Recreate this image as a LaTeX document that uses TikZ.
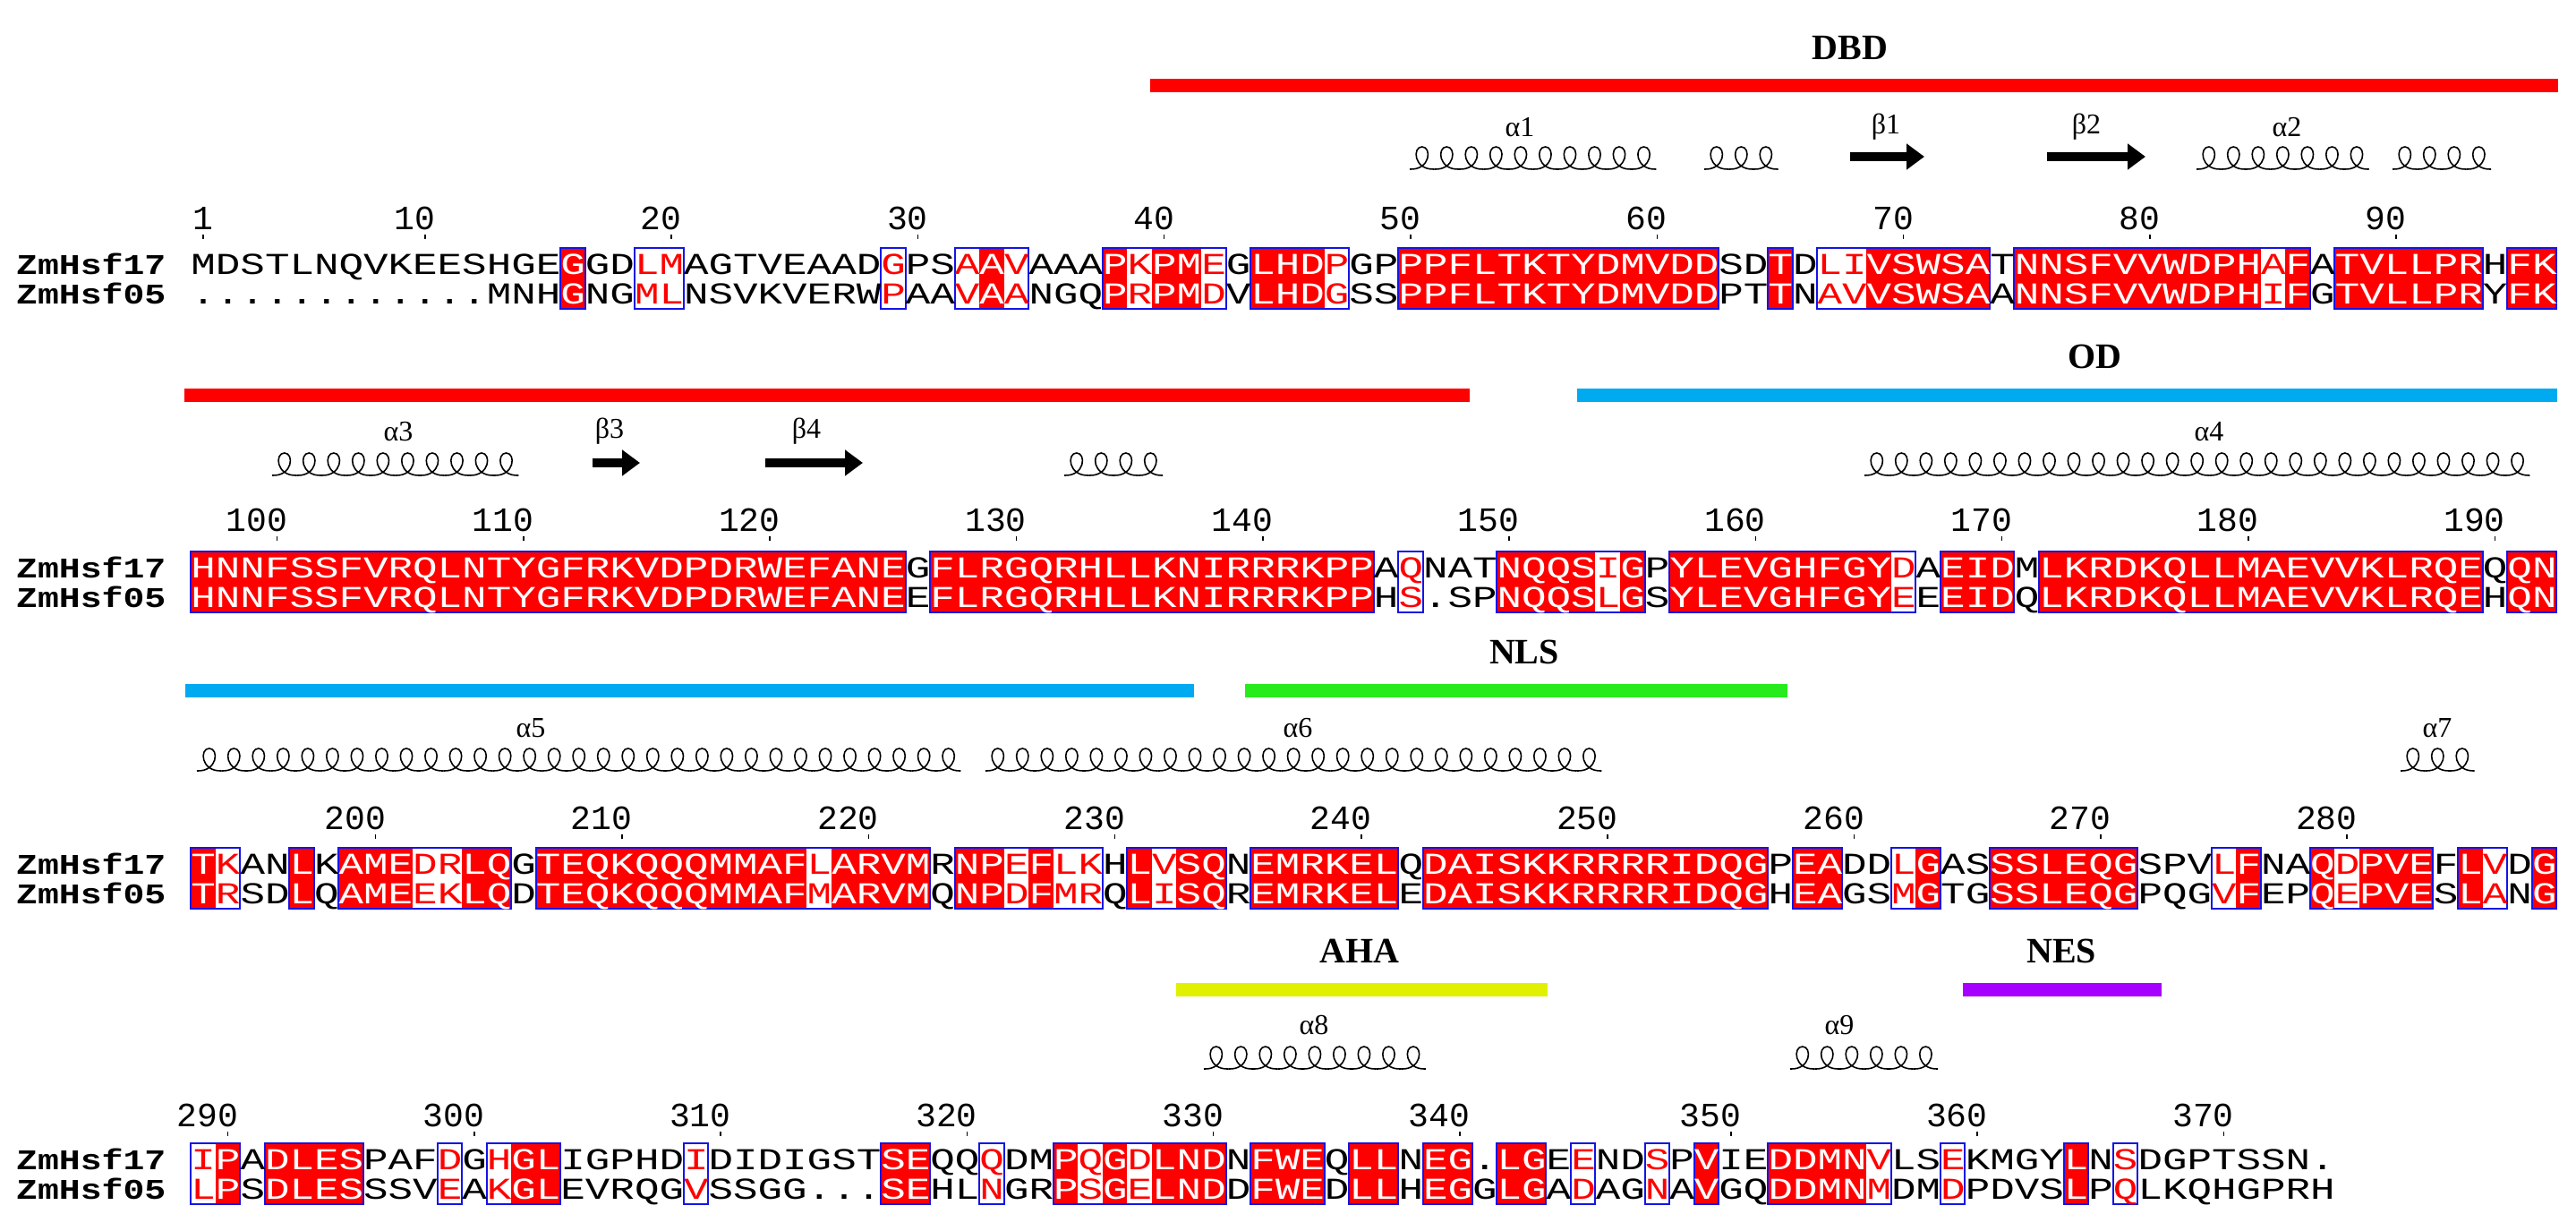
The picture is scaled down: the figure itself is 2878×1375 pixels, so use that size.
\documentclass[tikz,border=0pt]{standalone}
\usepackage{fontspec}
\setmainfont{Liberation Serif}
\newfontfamily\monof{Liberation Mono}
\usetikzlibrary{arrows.meta}
\definecolor{idred}{RGB}{255,0,0}
\definecolor{frblue}{RGB}{20,20,230}
\definecolor{odblue}{RGB}{0,170,240}
\definecolor{nlsgreen}{RGB}{40,235,30}
\definecolor{ahayel}{RGB}{225,240,0}
\definecolor{nespur}{RGB}{165,0,255}
\newcommand\W[1]{\textcolor{white}{#1}}
\newcommand\R[1]{\textcolor{idred}{#1}}
\newcommand\idn[2]{\fill[idred] ({227+(#1-1.5)*27.53},\bt) rectangle ({227+(#2-0.5)*27.53},\bb);}
\newcommand\grp[2]{\draw[frblue,line width=2pt] ({227+(#1-1.5)*27.53},\bt) rectangle ({227+(#2-0.5)*27.53},\bb);}
\newcommand\seqrow[2]{\node[seq] at ({227-0.5*27.53},{#1+11}) {\scalebox{1}[0.74]{#2}};}
\newcommand\names[2]{\node[nm] at (18,{#1+11}) {\scalebox{1}[0.8]{ZmHsf17}}; \node[nm] at (18,{#2+11}) {\scalebox{1}[0.8]{ZmHsf05}};}
\newcommand\num[3]{\node[numf] at ({227+(#1-1)*27.53+11.5},{#3+11}) {#2};
  \draw[line width=1.5pt] ({227+(#1-1)*27.53},{#3+17}) -- ({227+(#1-1)*27.53},{#3+22});}
% helix: start x, loops, centre y
\newcommand\helix[3]{\foreach \i in {1,...,#2}{%
  \draw[line width=1.6pt] ({#1+(\i-1)*27.53},{#3+12}) .. controls ({#1+(\i-0.15)*27.53},{#3+13}) and ({#1+(\i-0.1)*27.53},{#3-13}) .. ({#1+(\i-0.5)*27.53},{#3-13})
   .. controls ({#1+(\i-0.9)*27.53},{#3-13}) and ({#1+(\i-0.85)*27.53},{#3+13}) .. ({#1+\i*27.53},{#3+12});}}
\tikzset{
  seq/.style={anchor=base west,inner sep=0pt,font=\monof\fontsize{45.88}{46}\selectfont},
  nm/.style={anchor=base west,inner sep=0pt,font=\monof\bfseries\fontsize{39.8}{40}\selectfont},
  numf/.style={anchor=base east,inner sep=0pt,font=\monof\fontsize{38}{38}\selectfont},
  lab/.style={inner sep=0pt,font=\fontsize{32}{32}\selectfont},
  dom/.style={inner sep=0pt,font=\bfseries\fontsize{40}{40}\selectfont},
  bar/.style={line width=15pt},
  beta/.style={line width=10pt,-{Triangle[length=20pt,width=28pt]}}
}
\begin{document}
\begin{tikzpicture}[x=1pt,y=-1pt]
\useasboundingbox[fill=white] (0,0) rectangle (2878,1375);
% ---------------- Block 1 ----------------
\draw[bar,idred] (1285,96) -- (2858,96);
\node[dom] (dbd) at (2067,53) {DBD};
\node[lab] (a1) at (1698,142) {α1};
\node[lab] (b1) at (2107,142) {β1};
\node[lab] (b2) at (2331,142) {β2};
\node[lab] (a2) at (2555,142) {α2};
\helix{1575}{10}{177}\helix{1904}{3}{177}\helix{2454}{7}{177}\helix{2673}{4}{177}
\draw[beta] (2067,175) -- (2150,175);
\draw[beta] (2287,175) -- (2397,175);
\def\bt{277}\def\bb{345}
\foreach \a/\b in {16/16,33/33,38/38,40/41,44/46,50/62,65/65,69/73,75/84,86/86,88/93,95/96}{\idn{\a}{\b}}
\foreach \a/\b in {16/16,19/20,29/29,32/34,38/42,44/47,50/62,65/65,67/73,75/86,88/93,95/96}{\grp{\a}{\b}}
\foreach \c/\n in {1/1,10/10,20/20,30/30,40/40,50/50,60/60,70/70,80/80,90/90}{\num{\c}{\n}{245}}
\names{295}{328}
\seqrow{295}{MDSTLNQVKEESHGE\W{G}GD\R{LM}AGTVEAAD\R{G}PS\R{A}\W{A}\R{V}AAA\W{P}\R{K}\W{PM}\R{E}G\W{LHD}\R{P}GP\W{PPFLTKTYDMVDD}SD\W{T}D\R{LI}\W{VSWSA}T\W{NNSFVVWDPH}\R{A}\W{F}A\W{TVLLPR}H\W{FK}}
\seqrow{328}{............MNH\W{G}NG\R{ML}NSVKVERW\R{P}AA\R{V}\W{A}\R{A}NGQ\W{P}\R{R}\W{PM}\R{D}V\W{LHD}\R{G}SS\W{PPFLTKTYDMVDD}PT\W{T}N\R{AV}\W{VSWSA}A\W{NNSFVVWDPH}\R{I}\W{F}G\W{TVLLPR}Y\W{FK}}
% ---------------- Block 2 ----------------
\draw[bar,idred] (206,441) -- (1642,441);
\draw[bar,odblue] (1762,441) -- (2857,441);
\node[dom] (od) at (2340,398) {OD};
\node[lab] (a3) at (445,482) {α3};
\node[lab] (b3) at (681,482) {β3};
\node[lab] (b4) at (901,482) {β4};
\node[lab] (a4) at (2468,482) {α4};
\helix{304}{10}{519}\helix{1189}{4}{519}\helix{2083}{27}{519}
\draw[beta] (662,517) -- (715,517);
\draw[beta] (855,517) -- (964,517);
\def\bt{616}\def\bb{684}
\foreach \a/\b in {1/29,31/48,54/57,59/59,61/69,72/74,76/93,95/96}{\idn{\a}{\b}}
\foreach \a/\b in {1/29,31/48,50/50,54/59,61/70,72/74,76/93,95/96}{\grp{\a}{\b}}
\foreach \c/\n in {4/100,14/110,24/120,34/130,44/140,54/150,64/160,74/170,84/180,94/190}{\num{\c}{\n}{582}}
\names{634}{667}
\seqrow{634}{\W{HNNFSSFVRQLNTYGFRKVDPDRWEFANE}G\W{FLRGQRHLLKNIRRRKPP}A\R{Q}NAT\W{NQQS}\R{I}\W{G}P\W{YLEVGHFGY}\R{D}A\W{EID}M\W{LKRDKQLLMAEVVKLRQE}Q\W{QN}}
\seqrow{667}{\W{HNNFSSFVRQLNTYGFRKVDPDRWEFANE}E\W{FLRGQRHLLKNIRRRKPP}H\R{S}.SP\W{NQQS}\R{L}\W{G}S\W{YLEVGHFGY}\R{E}E\W{EID}Q\W{LKRDKQLLMAEVVKLRQE}H\W{QN}}
% ---------------- Block 3 ----------------
\draw[bar,odblue] (207,771) -- (1334,771);
\draw[bar,nlsgreen] (1391,771) -- (1997,771);
\node[dom] (nls) at (1703,728) {NLS};
\node[lab] (a5) at (593,813) {α5};
\node[lab] (a6) at (1450,813) {α6};
\node[lab] (a7) at (2723,813) {α7};
\helix{220}{31}{849}\helix{1101}{25}{849}\helix{2682}{3}{849}
\def\bt{947}\def\bb{1015}
\foreach \a/\b in {1/1,5/5,7/9,12/13,15/25,27/30,32/33,35/35,39/39,41/42,44/49,51/64,66/67,71/71,74/79,84/84,87/87,89/91,93/93,96/96}{\idn{\a}{\b}}
\foreach \a/\b in {1/2,5/5,7/13,15/30,32/37,39/42,44/49,51/64,66/67,70/71,74/79,83/84,87/91,93/94,96/96}{\grp{\a}{\b}}
\foreach \c/\n in {8/200,18/210,28/220,38/230,48/240,58/250,68/260,78/270,88/280}{\num{\c}{\n}{915}}
\names{965}{998}
\seqrow{965}{\W{T}\R{K}AN\W{L}K\W{AME}\R{DR}\W{LQ}G\W{TEQKQQQMMAF}\R{L}\W{ARVM}R\W{NP}\R{E}\W{F}\R{LK}H\W{L}\R{V}\W{SQ}N\W{EMRKEL}Q\W{DAISKKRRRRIDQG}P\W{EA}DD\R{L}\W{G}AS\W{SSLEQG}SPV\R{L}\W{F}NA\W{Q}\R{D}\W{PVE}F\W{L}\R{V}D\W{G}}
\seqrow{998}{\W{T}\R{R}SD\W{L}Q\W{AME}\R{EK}\W{LQ}D\W{TEQKQQQMMAF}\R{M}\W{ARVM}Q\W{NP}\R{D}\W{F}\R{MR}Q\W{L}\R{I}\W{SQ}R\W{EMRKEL}E\W{DAISKKRRRRIDQG}H\W{EA}GS\R{M}\W{G}TG\W{SSLEQG}PQG\R{V}\W{F}EP\W{Q}\R{E}\W{PVE}S\W{L}\R{A}N\W{G}}
% ---------------- Block 4 ----------------
\draw[bar,ahayel] (1314,1105) -- (1729,1105);
\draw[bar,nespur] (2193,1105) -- (2415,1105);
\node[dom] (aha) at (1519,1062) {AHA};
\node[dom] (nes) at (2303,1062) {NES};
\node[lab] (a8) at (1468,1145) {α8};
\node[lab] (a9) at (2055,1145) {α9};
\helix{1345}{9}{1182}\helix{2000}{6}{1182}
\def\bt{1277}\def\bb{1345}
\foreach \a/\b in {2/2,4/7,14/15,29/30,36/36,38/38,40/42,44/46,48/49,51/52,54/55,62/62,65/68,77/77}{\idn{\a}{\b}}
\foreach \a/\b in {1/2,4/7,11/11,13/15,21/21,29/30,33/33,36/42,44/46,48/49,51/52,54/55,57/57,60/60,62/62,65/69,72/72,77/77,79/79}{\grp{\a}{\b}}
\foreach \c/\n in {2/290,12/300,22/310,32/320,42/330,52/340,63/350,73/360,83/370}{\num{\c}{\n}{1247}}
\names{1295}{1328}
\seqrow{1295}{\R{I}\W{P}A\W{DLES}PAF\R{D}G\R{H}\W{GL}IGPHD\R{I}DIDIGST\W{SE}QQ\R{Q}DM\W{P}\R{Q}\W{G}\R{D}\W{LND}N\W{FWE}Q\W{LL}N\W{EG}.\W{LG}E\R{E}ND\R{S}P\W{V}IE\W{DDMN}\R{V}LS\R{E}KMGY\W{L}N\R{S}DGPTSSN.}
\seqrow{1328}{\R{L}\W{P}S\W{DLES}SSV\R{E}A\R{K}\W{GL}EVRQG\R{V}SSGG...\W{SE}HL\R{N}GR\W{P}\R{S}\W{G}\R{E}\W{LND}D\W{FWE}D\W{LL}H\W{EG}G\W{LG}A\R{D}AG\R{N}A\W{V}GQ\W{DDMN}\R{M}DM\R{D}PDVS\W{L}P\R{Q}LKQHGPRH}
\end{tikzpicture}
\end{document}
